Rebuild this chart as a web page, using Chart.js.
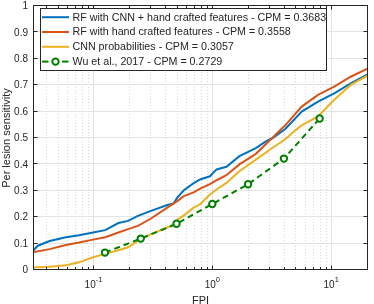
<!DOCTYPE html>
<html>
<head>
<meta charset="utf-8">
<script src="https://cdn.jsdelivr.net/npm/chart.js@4.4.1/dist/chart.umd.min.js"></script>
<style>
  html, body { margin: 0; padding: 0; background: #fff; }
  canvas { display: block; }
</style>
</head>
<body>
<canvas id="chart" width="374" height="304"></canvas>
<script>
// FROC curves (x = FPI, y = per lesion sensitivity)
const cnnHandFpi = [0.0309, 0.034, 0.0428, 0.0587, 0.0756, 0.0992, 0.1257, 0.162, 0.1957, 0.2368, 0.305, 0.418, 0.472, 0.507, 0.576, 0.697, 0.790, 0.955, 1.085, 1.313, 1.691, 2.323, 2.82, 3.19, 4.11, 5.65, 7.75, 10.6, 14.6, 20.4];
const cnnHandSens = [0.072, 0.092, 0.110, 0.124, 0.132, 0.142, 0.151, 0.178, 0.186, 0.205, 0.224, 0.246, 0.252, 0.274, 0.302, 0.329, 0.343, 0.355, 0.381, 0.391, 0.431, 0.462, 0.487, 0.499, 0.534, 0.600, 0.638, 0.669, 0.707, 0.742];

const handFpi = [0.0309, 0.0428, 0.0587, 0.0756, 0.0992, 0.1257, 0.162, 0.1957, 0.2368, 0.305, 0.418, 0.507, 0.576, 0.697, 0.790, 0.955, 1.085, 1.313, 1.691, 2.323, 3.19, 4.11, 5.65, 7.75, 10.6, 14.6, 20.4];
const handSens = [0.067, 0.079, 0.095, 0.104, 0.115, 0.124, 0.142, 0.155, 0.167, 0.195, 0.236, 0.261, 0.280, 0.294, 0.308, 0.325, 0.340, 0.359, 0.400, 0.440, 0.500, 0.548, 0.619, 0.663, 0.695, 0.732, 0.764];

const cnnFpi = [0.0309, 0.0428, 0.0587, 0.0756, 0.0992, 0.1257, 0.162, 0.1957, 0.2368, 0.305, 0.418, 0.472, 0.507, 0.576, 0.697, 0.790, 0.955, 1.085, 1.313, 1.691, 2.323, 3.19, 4.11, 4.99, 5.65, 7.75, 10.6, 14.6, 20.4];
const cnnSens = [0.009, 0.012, 0.018, 0.029, 0.048, 0.061, 0.075, 0.086, 0.110, 0.136, 0.161, 0.171, 0.190, 0.207, 0.236, 0.249, 0.286, 0.305, 0.330, 0.374, 0.418, 0.462, 0.495, 0.529, 0.548, 0.582, 0.645, 0.701, 0.737];

const wuFpi = [0.125, 0.25, 0.5, 1, 2, 4, 8];
const wuSens = [0.066, 0.119, 0.175, 0.250, 0.325, 0.422, 0.574];

const seriesNames = [
  'RF with CNN + hand crafted features - CPM = 0.3683',
  'RF with hand crafted features - CPM = 0.3558',
  'CNN probabilities - CPM = 0.3057',
  'Wu et al., 2017 - CPM = 0.2729'
];
const seriesColors = ['#0072BD', '#D95319', '#EDB120', '#008000'];

const yTickValues = [0, 0.1, 0.2, 0.3, 0.4, 0.5, 0.6, 0.7, 0.8, 0.9, 1];
const yTickLabels = ['0', '0.1', '0.2', '0.3', '0.4', '0.5', '0.6', '0.7', '0.8', '0.9', '1'];
const xTickValues = [0.1, 1, 10];
const xTickExps = ['-1', '0', '1'];
const xLabel = 'FPI';
const yLabel = 'Per lesion sensitivity';

const FONT = '"Liberation Sans", Arial, Helvetica, sans-serif';
const AXIS = '#262626';

const pts = (xs, ys) => xs.map((v, i) => ({ x: v, y: ys[i] }));

function minorValues(min, max) {
  const out = [];
  for (let d = -2; d <= 1; d++) {
    for (let k = 2; k <= 9; k++) {
      const v = k * Math.pow(10, d);
      if (v > min && v <= max) out.push(v);
    }
  }
  return out;
}

function seg(ctx, x1, y1, x2, y2) {
  ctx.beginPath();
  ctx.moveTo(x1, y1);
  ctx.lineTo(x2, y2);
  ctx.stroke();
}

const frame = {
  id: 'frame',
  beforeDatasetsDraw(chart) {
    const { ctx, chartArea: a, scales: { x, y } } = chart;
    const minors = minorValues(x.min, x.max);
    ctx.save();
    ctx.lineWidth = 1;
    // minor x grid (dotted)
    ctx.strokeStyle = 'rgba(38,38,38,0.18)';
    ctx.setLineDash([1, 2]);
    minors.forEach(v => {
      const px = Math.round(x.getPixelForValue(v)) + 0.5;
      seg(ctx, px, a.top, px, a.bottom);
    });
    ctx.setLineDash([]);
    // major grid
    ctx.strokeStyle = '#e3e3e3';
    xTickValues.forEach(v => {
      const px = Math.round(x.getPixelForValue(v)) + 0.5;
      seg(ctx, px, a.top, px, a.bottom);
    });
    yTickValues.slice(1, -1).forEach(v => {
      const py = Math.round(y.getPixelForValue(v)) - 0.5;
      seg(ctx, a.left, py, a.right, py);
    });
    ctx.restore();
  },
  afterDatasetsDraw(chart) {
    const { ctx, chartArea: a, scales: { x, y } } = chart;
    const L = a.left + 0.5, R = a.right - 0.5, T = a.top - 0.5, B = a.bottom - 0.5;
    ctx.save();
    ctx.strokeStyle = AXIS;
    ctx.lineWidth = 1;
    // ticks, inside, on all four sides
    minorValues(x.min, x.max).forEach(v => {
      const px = Math.round(x.getPixelForValue(v)) + 0.5;
      seg(ctx, px, B, px, B - 2.5);
      seg(ctx, px, T, px, T + 2.5);
    });
    xTickValues.forEach(v => {
      const px = Math.round(x.getPixelForValue(v)) + 0.5;
      seg(ctx, px, B, px, B - 4);
      seg(ctx, px, T, px, T + 4);
    });
    yTickValues.forEach(v => {
      const py = Math.round(y.getPixelForValue(v)) - 0.5;
      seg(ctx, L, py, L + 4, py);
      seg(ctx, R, py, R - 4, py);
    });
    ctx.strokeRect(L, T, R - L, B - T);

    // tick labels
    ctx.fillStyle = AXIS;
    ctx.font = '10px ' + FONT;
    ctx.textAlign = 'right';
    ctx.textBaseline = 'middle';
    yTickValues.forEach((v, i) => {
      ctx.fillText(yTickLabels[i], a.left - 5, y.getPixelForValue(v) + 0.5);
    });
    ctx.textAlign = 'left';
    ctx.textBaseline = 'alphabetic';
    xTickValues.forEach((v, i) => {
      ctx.font = '10px ' + FONT;
      const wb = ctx.measureText('10').width;
      ctx.font = '7.5px ' + FONT;
      const we = ctx.measureText(xTickExps[i]).width;
      const x0 = x.getPixelForValue(v) - (wb + we) / 2;
      ctx.font = '10px ' + FONT;
      ctx.fillText('10', x0, 287.5);
      ctx.font = '7.5px ' + FONT;
      ctx.fillText(xTickExps[i], x0 + wb, 282);
    });

    // axis titles
    ctx.font = '11px ' + FONT;
    ctx.textAlign = 'center';
    ctx.fillText(xLabel, (a.left + a.right) / 2, 303.5);
    ctx.save();
    ctx.translate(10, (a.top + a.bottom) / 2);
    ctx.rotate(-Math.PI / 2);
    ctx.fillText(yLabel, 0, 0);
    ctx.restore();

    // legend box
    const lg = { l: 40.5, t: 8.5, r: 326.5, b: 70.5 };
    ctx.fillStyle = '#fff';
    ctx.fillRect(lg.l, lg.t, lg.r - lg.l, lg.b - lg.t);
    ctx.strokeStyle = AXIS;
    ctx.lineWidth = 1;
    ctx.strokeRect(lg.l, lg.t, lg.r - lg.l, lg.b - lg.t);
    ctx.font = '10.7px ' + FONT;
    ctx.textAlign = 'left';
    ctx.textBaseline = 'middle';
    seriesNames.forEach((name, i) => {
      const ry = 17.2 + i * 14.8;
      ctx.strokeStyle = seriesColors[i];
      ctx.lineWidth = 2;
      if (i < 3) {
        seg(ctx, 42, ry, 69, ry);
      } else {
        seg(ctx, 42, ry, 48.5, ry);
        seg(ctx, 62, ry, 68.5, ry);
        ctx.beginPath();
        ctx.arc(55.5, ry, 3.2, 0, Math.PI * 2);
        ctx.fillStyle = '#fff';
        ctx.fill();
        ctx.stroke();
      }
      ctx.fillStyle = AXIS;
      ctx.fillText(name, 72.5, ry + 0.5);
    });
    ctx.restore();
  }
};

const ctx = document.getElementById('chart').getContext('2d');
const chart = new Chart(ctx, {
  type: 'line',
  data: {
    datasets: [
      { label: seriesNames[0], data: pts(cnnHandFpi, cnnHandSens), borderColor: seriesColors[0], borderWidth: 2, pointRadius: 0, order: 3 },
      { label: seriesNames[1], data: pts(handFpi, handSens), borderColor: seriesColors[1], borderWidth: 2, pointRadius: 0, order: 2 },
      { label: seriesNames[2], data: pts(cnnFpi, cnnSens), borderColor: seriesColors[2], borderWidth: 2, pointRadius: 0, order: 1 },
      { label: seriesNames[3], data: pts(wuFpi, wuSens), borderColor: seriesColors[3], borderWidth: 2, borderDash: [6, 4],
        pointRadius: 3.2, pointBorderWidth: 2, pointBorderColor: seriesColors[3], pointBackgroundColor: '#fff', order: 0 },
    ],
  },
  options: {
    responsive: false,
    animation: false,
    devicePixelRatio: 1,
    layout: { padding: { left: 33, right: 0, top: 3, bottom: 34 } },
    plugins: { legend: { display: false }, tooltip: { enabled: false } },
    elements: { line: { tension: 0, fill: false } },
    scales: {
      x: { type: 'logarithmic', min: 0.031, max: 20.4, display: false },
      y: { type: 'linear', min: 0, max: 1, display: false },
    },
  },
  plugins: [frame],
});
</script>
</body>
</html>
